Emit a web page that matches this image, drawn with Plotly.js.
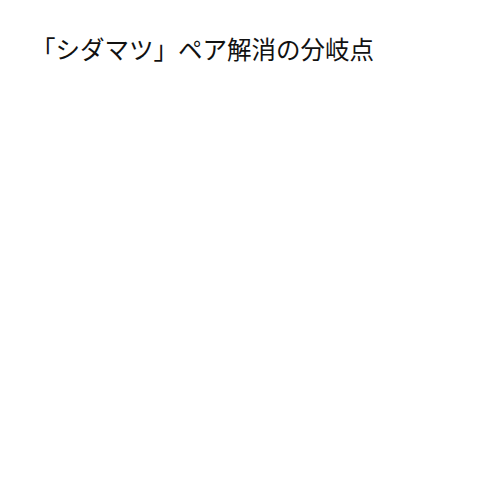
<!DOCTYPE html>
<html>
<head>
<meta charset="utf-8">
<script src="https://cdn.plot.ly/plotly-3.0.1.min.js"></script>
<style>
  html, body { margin: 0; padding: 0; background: #fff; }
  #myDiv { width: 500px; height: 500px; }
</style>
</head>
<body>
<div id="myDiv"></div>
<script>
// the chart has no marks, only its title
var categories = [];
var values = [];
var chartTitle = '「シダマツ」ペア解消の分岐点';

var trace1 = {
  x: categories,
  y: values,
  type: 'bar',
  marker: {color: '#1665D8'},
  hoverinfo: 'skip'
};

var layout = {
  width: 500,
  height: 500,
  paper_bgcolor: '#ffffff',
  plot_bgcolor: '#ffffff',
  margin: {l: 40, r: 40, t: 90, b: 40},
  showlegend: false,
  title: {
    text: chartTitle,
    font: {family: '"Noto Sans CJK JP", sans-serif', size: 24.5, color: '#111111'},
    x: 31 / 500,
    xref: 'container',
    xanchor: 'left',
    y: 0.9,
    yref: 'container',
    yanchor: 'middle'
  },
  xaxis: {visible: false, showgrid: false, zeroline: false},
  yaxis: {visible: false, showgrid: false, zeroline: false}
};

Plotly.newPlot('myDiv', [trace1], layout, {displayModeBar: false, staticPlot: true});
</script>
</body>
</html>
